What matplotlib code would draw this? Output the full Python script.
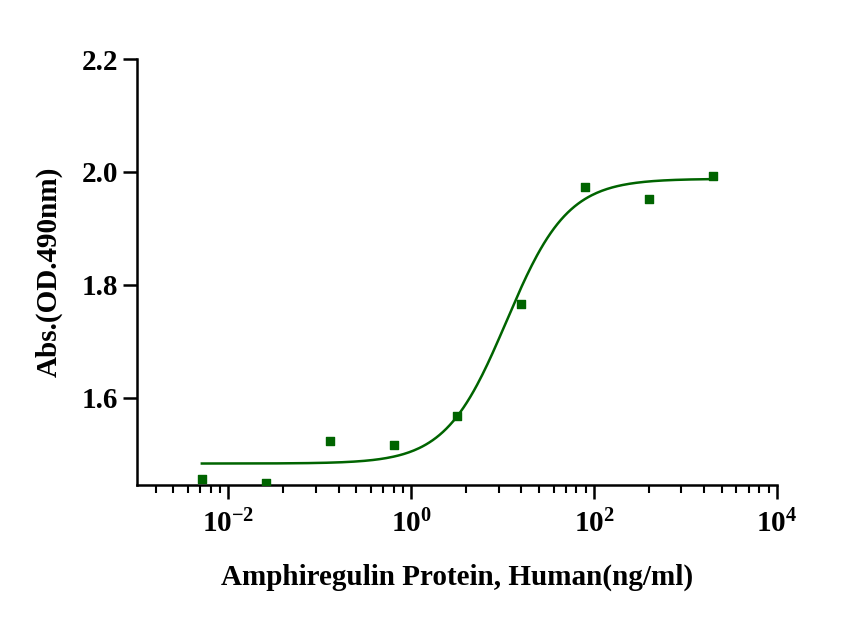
import numpy as np
import matplotlib
matplotlib.use("Agg")
import matplotlib.pyplot as plt
from matplotlib.ticker import FixedLocator, NullFormatter

conc = [0.00512, 0.0256, 0.128, 0.64, 3.2, 16, 80, 400, 2000]
absorb = [1.457, 1.450, 1.524, 1.517, 1.568, 1.766, 1.973, 1.952, 1.993]
x_ticks = [1e-2, 1e0, 1e2, 1e4]
x_labels = ["$\\mathbf{10^{-2}}$", "$\\mathbf{10^{0}}$", "$\\mathbf{10^{2}}$", "$\\mathbf{10^{4}}$"]
y_ticks = [1.6, 1.8, 2.0, 2.2]

bottom, top, ec50, hill = 1.484, 1.988, 11.0, 1.3

plt.rcParams["font.family"] = "Liberation Serif"
plt.rcParams["mathtext.fontset"] = "custom"
plt.rcParams["mathtext.rm"] = "Liberation Serif"
plt.rcParams["mathtext.bf"] = "Liberation Serif:bold"

fig = plt.figure(figsize=(8.66, 6.17), dpi=100)
ax = fig.add_axes([137/866, 1-485/617, (777-137)/866, (485-59)/617])
green = "#006400"
xs = np.logspace(np.log10(conc[0]), np.log10(conc[-1]), 300)
ax.plot(xs, bottom + (top-bottom)/(1+(ec50/xs)**hill), color=green, lw=1.8)
ax.scatter(conc, absorb, marker="s", s=40, color=green, zorder=3)
ax.set_xscale("log")
ax.set_xlim(1e-3, 1e4)
ax.set_ylim(1.446, 2.2)
ax.xaxis.set_major_locator(FixedLocator(x_ticks))
ax.set_xticklabels(x_labels)
minors = [10.0**(2*m) * k**2 for m in range(-2, 2) for k in range(2, 10)]
minors = [v for v in minors if 1e-3 <= v <= 1e4 and v not in x_ticks]
ax.xaxis.set_minor_locator(FixedLocator(minors))
ax.xaxis.set_minor_formatter(NullFormatter())
ax.set_yticks(y_ticks)
ax.set_yticklabels([f"{v:.1f}" for v in y_ticks])
for s in ["top", "right"]:
    ax.spines[s].set_visible(False)
for s in ["left", "bottom"]:
    ax.spines[s].set_linewidth(1.8)
ax.tick_params(which="major", length=10, width=1.8, labelsize=21, direction="out")
ax.tick_params(axis="x", which="major", pad=8)
ax.tick_params(which="minor", length=6, width=1.5, direction="out")
for t in ax.get_yticklabels():
    t.set_fontweight("bold")
ax.set_xlabel("Amphiregulin Protein, Human(ng/ml)", fontsize=21, fontweight="bold", labelpad=18)
ax.set_ylabel("Abs.(OD.490nm)", fontsize=21, fontweight="bold", labelpad=14)
fig.savefig("out.png", dpi=100)
